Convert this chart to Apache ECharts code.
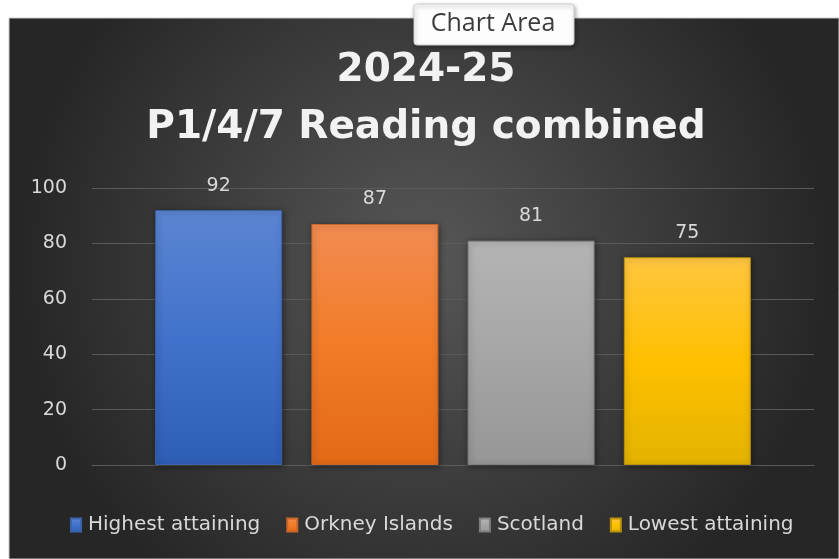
<!DOCTYPE html>
<html>
<head>
<meta charset="utf-8">
<script src="https://cdn.jsdelivr.net/npm/echarts@6/dist/echarts.min.js"></script>
<style>
  html, body { margin: 0; padding: 0; background: #fff; }
  #main { width: 839px; height: 559px; }
</style>
</head>
<body>
<div id="main"></div>
<script>
// data
const seriesNames = ['Highest attaining', 'Orkney Islands', 'Scotland', 'Lowest attaining'];
const seriesValues = [92, 87, 81, 75];
const yTicks = [0, 20, 40, 60, 80, 100];
const titleLines = ['2024-25', 'P1/4/7 Reading combined'];

// top / middle / bottom colours of each bar, plus border
const barColors = [
  ['#5b85d2', '#4272cb', '#2e5db6', '#3c64ad'],
  ['#f28c52', '#f27c28', '#e36a16', '#c9662a'],
  ['#b4b4b4', '#a6a6a6', '#969696', '#7f7f7f'],
  ['#ffc640', '#ffc000', '#e3b300', '#b8900a']
];

function vGrad(c) {
  return new echarts.graphic.LinearGradient(0, 0, 0, 1, [
    { offset: 0, color: c[0] },
    { offset: 0.5, color: c[1] },
    { offset: 1, color: c[2] }
  ]);
}

let myChart = echarts.init(document.getElementById('main'));

let series = seriesNames.map(function (name, i) {
  return {
    name: name,
    type: 'bar',
    data: [seriesValues[i]],
    barWidth: 127,
    barGap: '23%',
    itemStyle: {
      color: vGrad(barColors[i]),
      borderColor: barColors[i][3],
      borderWidth: 1,
      shadowColor: 'rgba(0,0,0,0.45)',
      shadowBlur: 6,
      shadowOffsetX: 1,
      shadowOffsetY: 1
    },
    label: {
      show: true,
      position: 'top',
      distance: 15,
      color: '#d9d9d9',
      fontFamily: 'DejaVu Sans',
      fontSize: 19
    }
  };
});

const titleStyle = {
  fill: '#f2f2f2',
  font: 'bold 39px "DejaVu Sans"',
  align: 'center',
  verticalAlign: 'middle',
  shadowColor: 'rgba(0,0,0,0.8)',
  shadowBlur: 4,
  shadowOffsetX: 2,
  shadowOffsetY: 2
};

let option = {
  animation: false,
  textStyle: { fontFamily: 'DejaVu Sans' },
  graphic: [
    {
      type: 'rect',
      z: -100,
      silent: true,
      shape: { x: 9, y: 18, width: 830, height: 541 },
      style: {
        fill: new echarts.graphic.RadialGradient(0.5, 0.45, 0.75, [
          { offset: 0, color: '#575757' },
          { offset: 1, color: '#262626' }
        ]),
        stroke: '#c8c8c8',
        lineWidth: 1
      }
    },
    {
      type: 'text',
      x: 426,
      y: 71,
      silent: true,
      style: Object.assign({ text: titleLines[0] }, titleStyle)
    },
    {
      type: 'text',
      x: 426,
      y: 128,
      silent: true,
      style: Object.assign({ text: titleLines[1] }, titleStyle)
    },
    // "Chart Area" hover tip from the screenshot
    {
      type: 'group',
      x: 414,
      y: 4,
      silent: true,
      children: [
        {
          type: 'rect',
          shape: { x: 0, y: 0, width: 160, height: 41, r: 3 },
          style: {
            fill: '#fdfdfd',
            stroke: '#d0d0d0',
            lineWidth: 1,
            shadowColor: 'rgba(0,0,0,0.35)',
            shadowBlur: 4,
            shadowOffsetX: 1,
            shadowOffsetY: 2
          }
        },
        {
          type: 'text',
          x: 79,
          y: 20,
          style: {
            text: 'Chart Area',
            fill: '#3c3c3c',
            font: '25px "Open Sans"',
            align: 'center',
            verticalAlign: 'middle'
          }
        }
      ]
    }
  ],
  legend: {
    data: seriesNames,
    left: 65,
    top: 510,
    icon: 'rect',
    itemWidth: 10,
    itemHeight: 13,
    itemGap: 26,
    textStyle: {
      color: '#d9d9d9',
      fontSize: 20,
      fontFamily: 'DejaVu Sans',
      padding: [0, 0, 0, 2]
    }
  },
  grid: {
    left: 92,
    right: 25,
    top: 188,
    bottom: 94,
    containLabel: false
  },
  xAxis: {
    type: 'category',
    data: [''],
    axisLine: { show: true, lineStyle: { color: '#5a5a5a' } },
    axisTick: { show: false },
    axisLabel: { show: false }
  },
  yAxis: {
    type: 'value',
    min: yTicks[0],
    max: yTicks[yTicks.length - 1],
    interval: yTicks[1] - yTicks[0],
    axisLine: { show: false },
    axisTick: { show: false },
    axisLabel: {
      color: '#d9d9d9',
      fontSize: 19,
      fontFamily: 'DejaVu Sans',
      margin: 25
    },
    splitLine: { lineStyle: { color: '#5a5a5a', width: 1 } }
  },
  series: series
};

myChart.setOption(option);
</script>
</body>
</html>
